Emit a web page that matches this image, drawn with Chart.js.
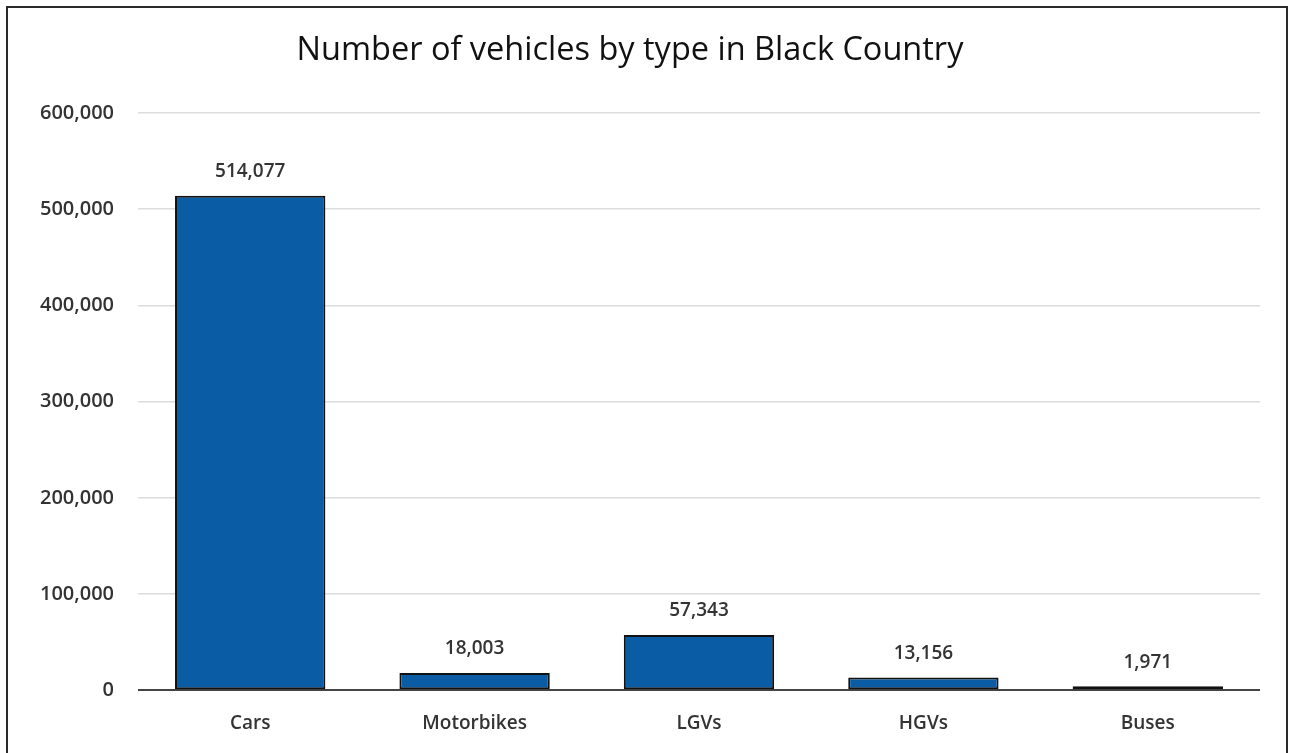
<!DOCTYPE html>
<html>
<head>
<meta charset="utf-8">
<script src="https://cdn.jsdelivr.net/npm/chart.js@4/dist/chart.umd.min.js"></script>
<style>
  html, body { margin: 0; padding: 0; background: #fff; overflow: hidden; }
  #frame { position: absolute; left: 6px; top: 6px; width: 1278px; height: 800px; border: 2px solid #2a2a2a; }
  #wrap { position: absolute; left: 0; top: 0; width: 1290px; height: 758px; }
</style>
</head>
<body>
<div id="frame"></div>
<div id="wrap"><canvas id="chart"></canvas></div>
<script>
const categories = ['Cars', 'Motorbikes', 'LGVs', 'HGVs', 'Buses'];
const vehicles   = [514077, 18003, 57343, 13156, 1971];
const yTicks     = [0, 100000, 200000, 300000, 400000, 500000, 600000];

const FONT = '"Open Sans", sans-serif';
const fmt = (v) => v.toLocaleString('en-GB');

// value labels above each bar
const barLabels = {
  id: 'barLabels',
  afterDatasetsDraw(chart) {
    const { ctx } = chart;
    const meta = chart.getDatasetMeta(0);
    ctx.save();
    ctx.font = '600 19px ' + FONT;
    ctx.fillStyle = '#333';
    ctx.textAlign = 'center';
    ctx.textBaseline = 'middle';
    meta.data.forEach((bar, i) => {
      ctx.fillText(fmt(vehicles[i]), bar.x, bar.y - 24);
    });
    ctx.restore();
  },
};

new Chart(document.getElementById('chart'), {
  type: 'bar',
  data: {
    labels: categories,
    datasets: [{
      data: vehicles,
      backgroundColor: '#0a5ca5',
      borderColor: '#111',
      borderWidth: 2,
      borderSkipped: false,
      minBarLength: 4,
      categoryPercentage: 1,
      barPercentage: 0.67,
    }],
  },
  options: {
    responsive: true,
    maintainAspectRatio: false,
    animation: false,
    layout: { padding: { left: 0, right: 30, top: 0, bottom: 1 } },
    scales: {
      x: {
        grid: { display: false, drawTicks: false },
        border: { display: false },
        ticks: { color: '#333', font: { size: 19, weight: 600, family: FONT }, padding: 22 },
      },
      y: {
        min: 0, max: 600000,
        afterFit: (axis) => { axis.width = 138; },
        afterBuildTicks: (axis) => { axis.ticks = yTicks.map((v) => ({ value: v })); },
        grid: {
          drawTicks: false,
          color: (c) => (c.tick && c.tick.value === 0 ? '#444' : '#dcdcdc'),
          lineWidth: (c) => (c.tick && c.tick.value === 0 ? 2 : 1.5),
        },
        border: { display: false },
        ticks: {
          color: '#333',
          padding: 24,
          font: { size: 20, weight: 600, family: FONT },
          callback: (v) => fmt(v),
        },
      },
    },
    plugins: {
      legend: { display: false },
      tooltip: { enabled: false },
      title: {
        display: true,
        text: 'Number of vehicles by type in Black Country',
        color: '#111',
        font: { size: 32.5, weight: 'normal', family: FONT },
        padding: { top: 31, bottom: 43 },
      },
    },
  },
  plugins: [barLabels],
});
</script>
</body>
</html>
